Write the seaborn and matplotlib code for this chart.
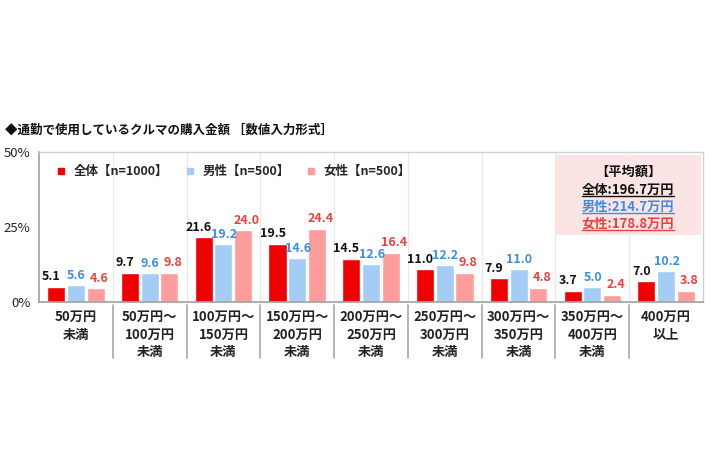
import matplotlib
matplotlib.use("Agg")
import matplotlib.pyplot as plt
import seaborn as sns
import pandas as pd
from matplotlib.lines import Line2D
from matplotlib.patches import Rectangle

categories = ["50万円\n未満", "50万円～\n100万円\n未満", "100万円～\n150万円\n未満",
              "150万円～\n200万円\n未満", "200万円～\n250万円\n未満", "250万円～\n300万円\n未満",
              "300万円～\n350万円\n未満", "350万円～\n400万円\n未満", "400万円\n以上"]
series_names = ["全体【n=1000】", "男性【n=500】", "女性【n=500】"]
total = [5.1, 9.7, 21.6, 19.5, 14.5, 11.0, 7.9, 3.7, 7.0]
male = [5.6, 9.6, 19.2, 14.6, 12.6, 12.2, 11.0, 5.0, 10.2]
female = [4.6, 9.8, 24.0, 24.4, 16.4, 9.8, 4.8, 2.4, 3.8]
yticks = [0, 25, 50]
ytick_labels = ["0%", "25%", "50%"]
title = "◆通勤で使用しているクルマの購入金額 ［数値入力形式］"
avg_lines = ["【平均額】", "全体:196.7万円", "男性:214.7万円", "女性:178.8万円"]

bar_colors = ["#f00000", "#a3cdf4", "#ff9c9c"]
label_colors = ["#111111", "#3a8fe4", "#e8423e"]

sns.set_theme(style="white")
plt.rcParams['font.family'] = ['Noto Sans CJK JP', 'DejaVu Sans']

rows = []
for name, vals in zip(series_names, [total, male, female]):
    for c, v in zip(categories, vals):
        rows.append({"cat": c, "series": name, "val": v})
df = pd.DataFrame(rows)

fig = plt.figure(figsize=(7.1, 4.73), dpi=100)
W, H = 710, 473
ax = fig.add_axes([39 / W, 1 - 302 / H, (703 - 39) / W, 150 / H])

sns.barplot(data=df, x="cat", y="val", hue="series", order=categories,
            hue_order=series_names, palette=bar_colors, width=0.8, gap=0.08,
            ax=ax, legend=False, saturation=1)

ax.set_ylim(0, 50)
ax.set_xlim(-0.5, len(categories) - 0.5)
ax.set_yticks(yticks)
ax.set_yticklabels(ytick_labels, fontsize=9.5, color="#222222")
ax.set_xticks(range(len(categories)))
ax.set_xticklabels(categories, fontsize=9.5, fontweight="bold", color="#222222", linespacing=1.3)
ax.tick_params(axis="both", length=0)
ax.tick_params(axis="x", pad=6)
ax.tick_params(axis="y", pad=6)
ax.set_xlabel("")
ax.set_ylabel("")

for s in ["left", "bottom"]:
    ax.spines[s].set_color("#a0a0a0")
    ax.spines[s].set_linewidth(1.2)
for s in ["top", "right"]:
    ax.spines[s].set_color("#d0d0d0")
    ax.spines[s].set_linewidth(1.0)

# vertical separators
for k in range(1, len(categories)):
    ax.axvline(k - 0.5, color="#e8e8e8", lw=0.9, zorder=0)
    ax.plot([k - 0.5, k - 0.5], [-0.02, -0.37], transform=ax.get_xaxis_transform(),
            color="#a8a8a8", lw=1.2, clip_on=False)

# value labels (first series nudged left, last nudged right, as in the reference)
offsets = [-3.5, 0.5, 2.5]
for cont, col, dx in zip(ax.containers, label_colors, offsets):
    for bar in cont:
        h = bar.get_height()
        ax.annotate(f"{h:.1f}", (bar.get_x() + bar.get_width() / 2, h),
                    xytext=(dx, 2.5), textcoords="offset points",
                    ha="center", va="bottom", color=col, fontsize=9, fontweight="bold")

handles = [Line2D([], [], marker="s", ls="", color=c, markersize=4.5) for c in bar_colors]
ax.legend(handles, series_names, loc="center left", bbox_to_anchor=(-0.002, 0.867),
          ncol=3, frameon=False, handletextpad=0.0, columnspacing=0.7,
          prop={"size": 9, "weight": "bold"})

fig.text(5 / W, 1 - 130 / H, title, fontsize=9, fontweight="bold", color="#111111",
         va="center", ha="left")

# average box
fig.patches.append(Rectangle((555 / W, 1 - 235 / H), 146 / W, 80 / H, transform=fig.transFigure,
                             facecolor="#fde4e4", edgecolor="none", zorder=2))
avg_colors = ["#111111", "#111111", "#3a8fe4", "#e8423e"]
avg_y = [172, 190, 207, 224]
texts = []
for t, c, y in zip(avg_lines, avg_colors, avg_y):
    texts.append(fig.text(628 / W, 1 - y / H, t, fontsize=9.5, fontweight="bold", color=c,
                          ha="center", va="center", zorder=3))
fig.canvas.draw()
r = fig.canvas.get_renderer()
for t, c in zip(texts[1:], avg_colors[1:]):
    bb = t.get_window_extent(r)
    yy = bb.y0 + 1
    fig.lines.append(Line2D([bb.x0 / W, bb.x1 / W], [yy / H, yy / H], transform=fig.transFigure,
                            color=c, lw=1.0, zorder=3))

fig.savefig("out.png", dpi=100)
